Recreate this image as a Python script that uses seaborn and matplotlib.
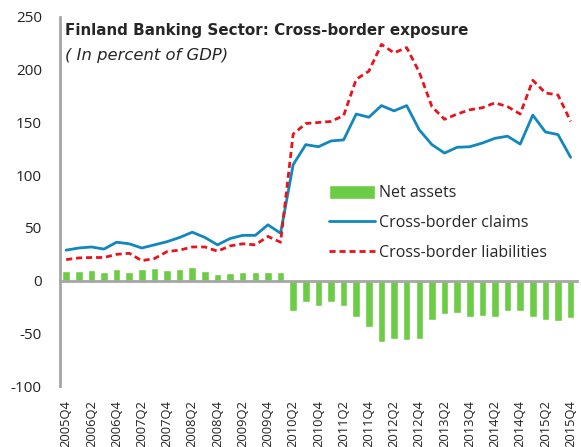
import numpy as np
import pandas as pd
import seaborn as sns
import matplotlib
matplotlib.use('Agg')
import matplotlib.pyplot as plt

# quarters 2005Q4 .. 2015Q4
quarters = ['2005Q4'] + ['{0}Q{1}'.format(y, q) for y in range(2006, 2016) for q in range(1, 5)]

net_assets = [9, 9, 10, 8, 11, 8, 11, 12, 10, 11, 13, 9, 6, 7, 8, 8, 8, 8,
              -29, -20, -24, -20, -24, -34, -44, -58, -55, -56, -55,
              -37, -32, -31, -34, -33, -34, -29, -29, -34, -37, -38, -35]

claims = [29, 31, 32, 30, 36.5, 35, 31, 34, 37, 41, 46, 41, 34, 40, 43, 43, 53, 45,
          110, 129, 127, 132.5, 133.5, 158, 155, 166, 161, 166, 143,
          129, 121, 126.5, 127, 130.5, 135, 137, 129.5, 157, 141, 138.5, 117]

liabilities = [20, 21.6, 22, 22, 25, 26, 19, 21, 27.6, 29, 32, 32, 28, 33, 35, 34, 42, 36.5,
               139, 149, 150, 151, 156.5, 191, 198.6, 224, 216, 221, 197.6,
               165, 153, 158, 162, 164, 168.6, 165, 158, 190, 178, 176, 151]

tick_labels = quarters[::2]

df = pd.DataFrame({'quarter': quarters, 'idx': np.arange(len(quarters)),
                   'net': net_assets, 'claims': claims, 'liab': liabilities})

sns.set_style('white')
plt.rcParams['font.family'] = ['Open Sans', 'DejaVu Sans']
plt.rcParams['axes.unicode_minus'] = False

green = '#6CCC45'
blue = '#1287BC'
red = '#E8141B'
grey = '#A6A6A6'

fig = plt.figure(figsize=(5.81, 4.47), dpi=100)
ax = fig.add_axes([0.103, 0.136, 0.890, 0.826])

sns.barplot(data=df, x='quarter', y='net', color=green, width=0.6,
            saturation=1, label='Net assets', ax=ax)
sns.lineplot(data=df, x='idx', y='claims', color=blue, lw=2,
             label='Cross-border claims', ax=ax)
sns.lineplot(data=df, x='idx', y='liab', color=red, lw=2,
             label='Cross-border liabilities', ax=ax)
ax.lines[-1].set_dashes((2.2, 1.4))

ax.set_ylim(-100, 250)
ax.set_xlim(-0.5, 40.5)
ax.set_yticks(np.arange(-100, 251, 50))
ax.set_xlabel('')
ax.set_ylabel('')

## spines: left grey, bottom moved to zero line
for s in ['top', 'right']:
  ax.spines[s].set_visible(False)
ax.spines['left'].set_color(grey)
ax.spines['left'].set_linewidth(2)
ax.spines['bottom'].set_position(('data', 0))
ax.spines['bottom'].set_color(grey)
ax.spines['bottom'].set_linewidth(2)
ax.set_xticks(np.arange(3.5, 40, 4))
ax.tick_params(axis='x', direction='in', length=4, width=1, color=grey,
               labelbottom=False)
ax.tick_params(axis='y', direction='in', length=4, width=1, color=grey,
               labelsize=11, labelcolor='#222222', pad=13)

## quarter labels at the bottom
sec = ax.secondary_xaxis('bottom')
sec.set_xticks(np.arange(0, 41, 2), tick_labels)
sec.spines['bottom'].set_visible(False)
sec.tick_params(axis='x', length=0, labelsize=9.3, labelcolor='#222222',
                rotation=90, pad=10)

ax.text(0.01, 0.985, 'Finland Banking Sector: Cross-border exposure',
        transform=ax.transAxes, fontsize=10.9, fontweight='bold', va='top',
        family='DejaVu Sans')
ax.text(0.01, 0.915, '( In percent of GDP)', transform=ax.transAxes,
        fontsize=11.8, style='italic', va='top', family='DejaVu Sans')

h, l = ax.get_legend_handles_labels()
order = [l.index('Net assets'), l.index('Cross-border claims'),
         l.index('Cross-border liabilities')]
ax.legend([h[i] for i in order], [l[i] for i in order], frameon=False,
          loc='upper left', bbox_to_anchor=(0.493, 0.583), fontsize=11.5,
          handlelength=2.85, handleheight=0.9, labelspacing=0.85,
          handletextpad=0.25)

plt.savefig('out.png', dpi=100)
